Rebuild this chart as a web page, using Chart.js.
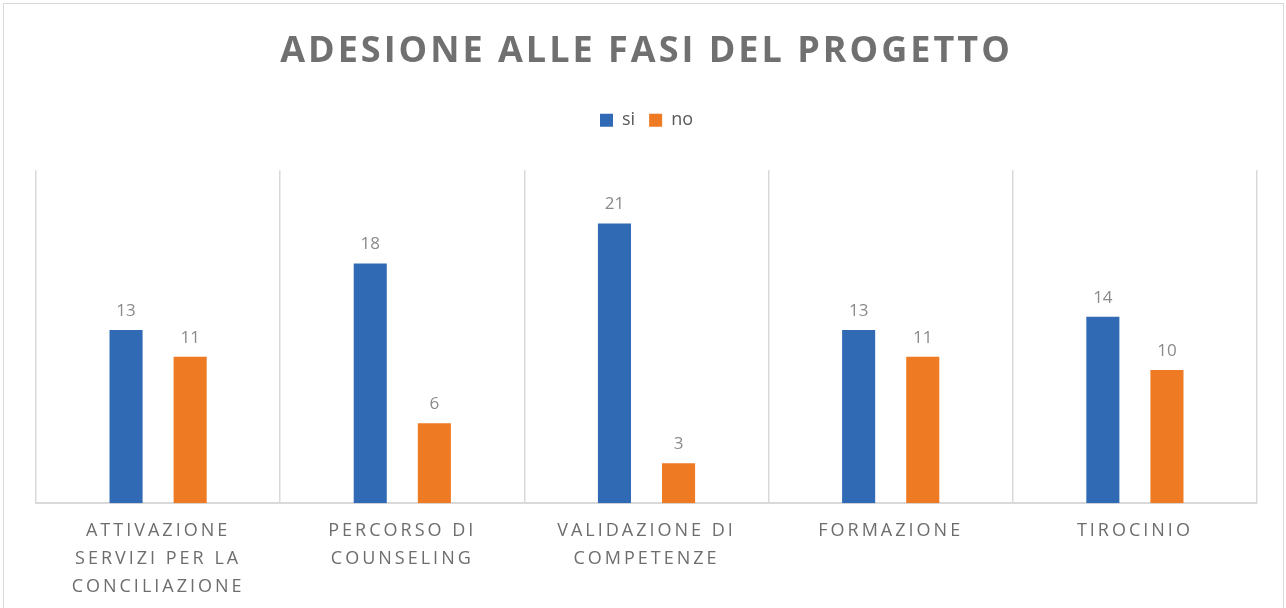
<!DOCTYPE html>
<html>
<head>
<meta charset="utf-8">
<script src="https://cdn.jsdelivr.net/npm/chart.js@4/dist/chart.umd.min.js"></script>
<style>
  html, body { margin: 0; padding: 0; background: #fff; overflow: hidden; }
  #wrap { position: relative; width: 1286px; height: 608px; }
  #frame { position: absolute; left: 3px; top: 3px; width: 1279px; height: 620px; border: 1px solid #d9d9d9; }
  canvas { position: absolute; left: 0; top: 0; }
</style>
</head>
<body>
<div id="wrap">
  <div id="frame"></div>
  <canvas id="myChart" width="1286" height="608"></canvas>
</div>
<script>
const categories = [
  ['ATTIVAZIONE', 'SERVIZI PER LA', 'CONCILIAZIONE'],
  ['PERCORSO DI', 'COUNSELING'],
  ['VALIDAZIONE DI', 'COMPETENZE'],
  ['FORMAZIONE'],
  ['TIROCINIO']
];
const siValues = [13, 18, 21, 13, 14];
const noValues = [11, 6, 3, 11, 10];

// extra room under the legend, before the plot starts
const legendGap = {
  id: 'legendGap',
  beforeUpdate(chart) {
    const lg = chart.legend;
    if (!lg || lg._gapDone) return;
    lg._gapDone = true;
    const origFit = lg.fit;
    lg.fit = function() {
      origFit.call(this);
      this.height += 31;
    };
  }
};

// spaced-out text for title and category labels
const spacing = {
  id: 'spacing',
  beforeDraw(chart) {
    if (chart._spacedDone) return;
    chart._spacedDone = true;
    const ctx = chart.ctx;
    const xs = chart.scales.x;
    const origLabels = xs.drawLabels;
    xs.drawLabels = function(area) {
      ctx.save();
      ctx.letterSpacing = '3px';
      origLabels.call(this, area);
      ctx.restore();
    };
    const tb = chart.titleBlock;
    const origTitle = tb.draw;
    tb.draw = function() {
      ctx.save();
      ctx.letterSpacing = '3px';
      origTitle.apply(this, arguments);
      ctx.restore();
    };
  }
};

// values above each bar
const barValues = {
  id: 'barValues',
  afterDatasetsDraw(chart) {
    const ctx = chart.ctx;
    ctx.save();
    ctx.font = '17px "Open Sans"';
    ctx.fillStyle = '#8a8a8a';
    ctx.textAlign = 'center';
    ctx.textBaseline = 'alphabetic';
    chart.data.datasets.forEach((ds, i) => {
      chart.getDatasetMeta(i).data.forEach((bar, j) => {
        ctx.fillText(ds.data[j], bar.x, bar.y - 14);
      });
    });
    ctx.restore();
  }
};

const ctx = document.getElementById('myChart').getContext('2d');
new Chart(ctx, {
  type: 'bar',
  data: {
    labels: categories,
    datasets: [
      {
        label: 'si',
        data: siValues,
        backgroundColor: '#306ab4',
        categoryPercentage: 0.525,
        barPercentage: 0.516
      },
      {
        label: 'no',
        data: noValues,
        backgroundColor: '#ee7a23',
        categoryPercentage: 0.525,
        barPercentage: 0.516
      }
    ]
  },
  options: {
    responsive: false,
    animation: false,
    layout: {
      padding: { left: 36, right: 29, top: 0, bottom: -7 }
    },
    plugins: {
      title: {
        display: true,
        text: 'ADESIONE ALLE FASI DEL PROGETTO',
        color: '#707070',
        font: { family: 'Open Sans', size: 36, weight: 'bold' },
        padding: { top: 30, bottom: 24 }
      },
      legend: {
        display: true,
        labels: {
          color: '#595959',
          font: { family: 'Open Sans', size: 18 },
          boxWidth: 13,
          boxHeight: 13,
          padding: 14
        }
      },
      tooltip: { enabled: false }
    },
    scales: {
      x: {
        grid: {
          display: true,
          color: '#d9d9d9',
          lineWidth: 1.5,
          drawTicks: false,
          offset: true
        },
        border: { display: true, color: '#d9d9d9', width: 2 },
        ticks: {
          color: '#6d6d6d',
          font: { family: 'Open Sans', size: 18, lineHeight: 1.55 },
          maxRotation: 0,
          autoSkip: false,
          padding: 14
        }
      },
      y: {
        display: false,
        min: 0,
        max: 25
      }
    }
  },
  plugins: [legendGap, spacing, barValues]
});
</script>
</body>
</html>
